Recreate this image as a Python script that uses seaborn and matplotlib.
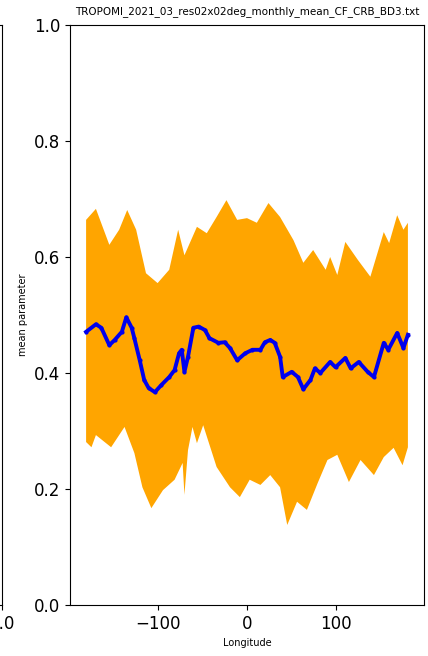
import numpy as np
import pandas as pd
import matplotlib
matplotlib.use("Agg")
import matplotlib.pyplot as plt
import seaborn as sns

# ---- data ----
mean_lon = [-180, -169, -163, -154, -148, -140, -135, -129, -126, -120, -115, -110, -103, -96, -87,
            -81, -76, -73, -70, -66, -60, -54, -47, -42, -32, -25, -19, -11, -2, 6,
            15, 20, 26, 31, 37, 40, 50, 57, 63, 71, 76, 82, 93, 99, 110, 116, 125,
            135, 142, 153, 158, 168, 175, 180]
mean_val = [0.471, 0.484, 0.478, 0.448, 0.457, 0.471, 0.496, 0.478, 0.460, 0.422, 0.388, 0.374, 0.367, 0.379, 0.393,
            0.405, 0.434, 0.440, 0.402, 0.428, 0.478, 0.480, 0.474, 0.460, 0.452, 0.453, 0.443, 0.422, 0.434, 0.440,
            0.440, 0.453, 0.457, 0.452, 0.428, 0.393, 0.402, 0.393, 0.372, 0.388, 0.408, 0.400, 0.419, 0.410, 0.426, 0.408, 0.419,
            0.402, 0.393, 0.452, 0.440, 0.469, 0.443, 0.466]

upper_lon = [-180, -169, -154, -143, -134, -124, -113, -100, -87, -77, -70, -56, -45, -34, -23,
             -11, 0, 11, 24, 37, 52, 63, 74, 88, 93, 101, 110, 124, 138, 153, 159, 168, 175, 180]
upper_val = [0.664, 0.683, 0.621, 0.647, 0.681, 0.647, 0.572, 0.555, 0.578, 0.647, 0.603, 0.652, 0.641, 0.669, 0.698,
             0.664, 0.667, 0.659, 0.693, 0.669, 0.629, 0.590, 0.612, 0.578, 0.600, 0.569, 0.626, 0.595, 0.566, 0.643,
             0.624, 0.672, 0.647, 0.659]

lower_lon = [-180, -174, -169, -152, -137, -126, -117, -107, -94, -81, -72, -70, -66, -61, -56,
             -49, -34, -19, -8, 3, 15, 26, 37, 45, 56, 67, 79, 90, 101, 114, 127, 142, 153, 164, 174, 180]
lower_val = [0.281, 0.272, 0.293, 0.272, 0.307, 0.262, 0.203, 0.167, 0.198, 0.216, 0.245, 0.190, 0.267, 0.307, 0.279,
             0.310, 0.238, 0.203, 0.186, 0.216, 0.207, 0.224, 0.203, 0.138, 0.178, 0.164, 0.210, 0.250, 0.259, 0.212,
             0.250, 0.224, 0.255, 0.271, 0.241, 0.272]

title = "TROPOMI_2021_03_res02x02deg_monthly_mean_CF_CRB_BD3.txt"
x_label = "Longitude"
y_label = "mean parameter"
left_tick_label = "1.0"

# ---- figure ----
W, H = 428, 656
fig = plt.figure(figsize=(W / 100, H / 100), dpi=100)

ax_l = 70 / W
ax_r = 424 / W
ax_b = (H - 605) / H
ax_t = (H - 25) / H

# partial neighbouring panel on the left (only its right edge is visible)
ax0 = fig.add_axes([-0.6, ax_b, 0.6 + 1.5 / W, ax_t - ax_b])
ax0.set_xlim(0, 1)
ax0.set_ylim(0, 1)
ax0.set_xticks([1.0])
ax0.set_xticklabels([left_tick_label], fontsize=12)
ax0.set_yticks([])

ax = fig.add_axes([ax_l, ax_b, ax_r - ax_l, ax_t - ax_b])

poly_x = np.concatenate([np.array(upper_lon, float), np.array(lower_lon, float)[::-1]])
poly_y = np.concatenate([np.array(upper_val, float), np.array(lower_val, float)[::-1]])
ax.fill(poly_x, poly_y, color="#FFA500", linewidth=0)

df = pd.DataFrame({"lon": mean_lon, "val": mean_val})
sns.lineplot(data=df, x="lon", y="val", ax=ax, color="#0000EE", linewidth=2.8,
             marker="o", markersize=3, markeredgewidth=0)

ax.set_xlim(-198, 198)
ax.set_ylim(0, 1.0)
ax.set_xticks([-100, 0, 100])
ax.set_yticks([0.0, 0.2, 0.4, 0.6, 0.8, 1.0])
ax.set_yticklabels(["0.0", "0.2", "0.4", "0.6", "0.8", "1.0"])
ax.tick_params(labelsize=12)
ax.set_xlabel(x_label, fontsize=7)
ax.set_ylabel(y_label, fontsize=7)
ax.set_title(title, fontsize=7.5, pad=8)

fig.savefig("out.png", dpi=100)
